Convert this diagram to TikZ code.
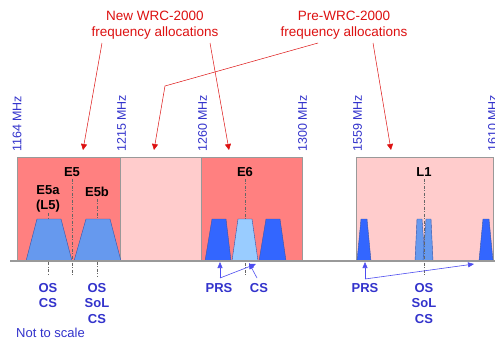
\documentclass[tikz,border=0pt]{standalone}
\usepackage{fontspec}
\setmainfont{Liberation Sans}
\usetikzlibrary{arrows.meta}
\definecolor{boxdark}{HTML}{FF8080}
\definecolor{boxlight}{HTML}{FFCCCC}
\definecolor{txtblue}{HTML}{3333CC}
\definecolor{arrblue}{HTML}{4D4DF0}
\definecolor{sigdark}{HTML}{3366FF}
\definecolor{sigmid}{HTML}{6699EE}
\definecolor{siglight}{HTML}{99CCFF}
\definecolor{sigline}{HTML}{3355AA}
\definecolor{redtxt}{HTML}{DD1111}
\tikzset{
  band/.style={draw=gray!80, line width=0.8pt},
  freq/.style={rotate=90, anchor=west, inner sep=0pt, text=txtblue, font=\fontsize{12.5}{14}\selectfont},
  lab/.style={inner sep=0pt, font=\fontsize{13}{15.5}\selectfont\bfseries, align=center},
  sig/.style={text=txtblue, anchor=north, inner sep=0pt, font=\fontsize{13}{15.5}\selectfont\bfseries, align=center},
  title/.style={anchor=north, inner sep=0pt, text=redtxt, align=center, font=\fontsize{13.5}{16}\selectfont},
  rarrow/.style={draw=redtxt, line width=0.5pt, -{Triangle[length=6pt,width=6pt]}},
  barrow/.style={draw=arrblue, line width=0.6pt, -{Triangle[length=6pt,width=5pt]}},
  dashline/.style={draw=black!60, line width=0.6pt, dash pattern=on 3pt off 1.5pt on 1pt off 1.5pt},
  trap/.style={draw=sigline, line width=0.4pt},
}
\begin{document}
\begin{tikzpicture}[x=1pt,y=-1pt]
\useasboundingbox (0,0) rectangle (495,338);
\fill[white] (0,0) rectangle (495,338);
% bands
\filldraw[band, fill=boxdark] (17,157) rectangle (120,261);
\filldraw[band, fill=boxlight] (120,157) rectangle (201,261);
\filldraw[band, fill=boxdark] (201,157) rectangle (302,261);
\filldraw[band, fill=boxlight] (356,157) rectangle (493,261);
% frequency labels
\node[freq] (f1164) at (17,152) {1164 MHz};
\node[freq] (f1215) at (121.5,152) {1215 MHz};
\node[freq] (f1260) at (202.5,152) {1260 MHz};
\node[freq] (f1300) at (302.5,152) {1300 MHz};
\node[freq] (f1559) at (357.5,152) {1559 MHz};
\node[freq] (f1610) at (492.5,152) {1610 MHz};
% titles
\node[title] (newt) at (155,11) {New WRC-2000\\frequency allocations};
\node[title] (pret) at (344,11) {Pre-WRC-2000\\frequency allocations};
\coordinate (n1) at (102,43);
\coordinate (n2) at (210,43);
\coordinate (p1) at (318,43);
\coordinate (p2) at (373,43);
\coordinate (pk) at (165,86);
\coordinate (t1) at (83,150);
\coordinate (t2) at (229,150);
\coordinate (t3) at (154,150);
\coordinate (t4) at (391,150);
\draw[rarrow] (n1) -- (t1);
\draw[rarrow] (n2) -- (t2);
\draw[rarrow] (p1) -- (pk) -- (t3);
\draw[rarrow] (p2) -- (t4);
% band labels
\node[lab] (e5) at (72,172) {E5};
\node[lab] (e5a) at (48,190) {E5a};
\node[lab] (l5) at (48,206) {(L5)};
\node[lab] (e5b) at (97,192) {E5b};
\node[lab] (e6) at (245,172) {E6};
\node[lab] (l1) at (424,172) {L1};
% dashed centre lines
\draw[dashline] (e5.south) ++(0,2) -- (72,276);
\draw[dashline] (l5.south) ++(0,1) -- (48,276);
\draw[dashline] (e5b.south) ++(0,2) -- (97,276);
\draw[dashline] (e6.south) ++(0,2) -- (245,276);
% E5 signals
\filldraw[trap, fill=sigmid] (26,261) -- (37,219) -- (61,219) -- (72,261) -- cycle;
\filldraw[trap, fill=sigmid] (74,261) -- (86,219) -- (110,219) -- (121,261) -- cycle;
% E6 signals
\filldraw[trap, fill=sigdark] (205,261) -- (212,219) -- (226,219) -- (231,261) -- cycle;
\filldraw[trap, fill=siglight] (232,261) -- (238,219) -- (252,219) -- (258,261) -- cycle;
\filldraw[trap, fill=sigdark] (259,261) -- (266,219) -- (280,219) -- (286,261) -- cycle;
% L1 signals
\filldraw[trap, fill=sigdark] (357,261) -- (361,219) -- (367,219) -- (371,261) -- cycle;
\filldraw[trap, fill=sigmid] (415,261) -- (417,219) -- (422,219) -- (425,261) -- cycle;
\filldraw[trap, fill=sigmid] (423,261) -- (426,219) -- (431,219) -- (433,261) -- cycle;
\filldraw[trap, fill=sigdark] (479,261) -- (483,219) -- (489,219) -- (493,261) -- cycle;
\draw[dashline] (l1.south) ++(0,2) -- (424,276);
% baseline
\coordinate (b0) at (10,261);
\coordinate (b1) at (495,261);
\draw[draw=gray!80, line width=1.2pt] (b0) -- (b1);
% service labels
\node[sig] (s5a) at (48,283) {OS\\CS};
\node[sig] (s5b) at (97,283) {OS\\SoL\\CS};
\node[sig] (prs6) at (219,283) {PRS};
\node[sig] (cs6) at (259,283) {CS};
\node[sig] (prs1) at (365,283) {PRS};
\node[sig] (sl1) at (424,283) {OS\\SoL\\CS};
\node[anchor=west, inner sep=0pt, text=txtblue, font=\fontsize{13}{15}\selectfont] (nts) at (16,333) {Not to scale};
% blue arrows
\coordinate (pf6) at (220,278);
\coordinate (pa6) at (220,262);
\coordinate (pb6) at (256,264);
\coordinate (cf6) at (257,278);
\coordinate (ca6) at (249,263);
\draw[barrow] (pf6) -- (pa6);
\draw[barrow] (pf6) -- (pb6);
\draw[barrow] (cf6) -- (ca6);
\coordinate (pf1) at (365,279);
\coordinate (pa1) at (365,262);
\coordinate (pb1) at (474,264);
\draw[barrow] (pf1) -- (pa1);
\draw[barrow] (pf1) -- (pb1);
\end{tikzpicture}
\end{document}
